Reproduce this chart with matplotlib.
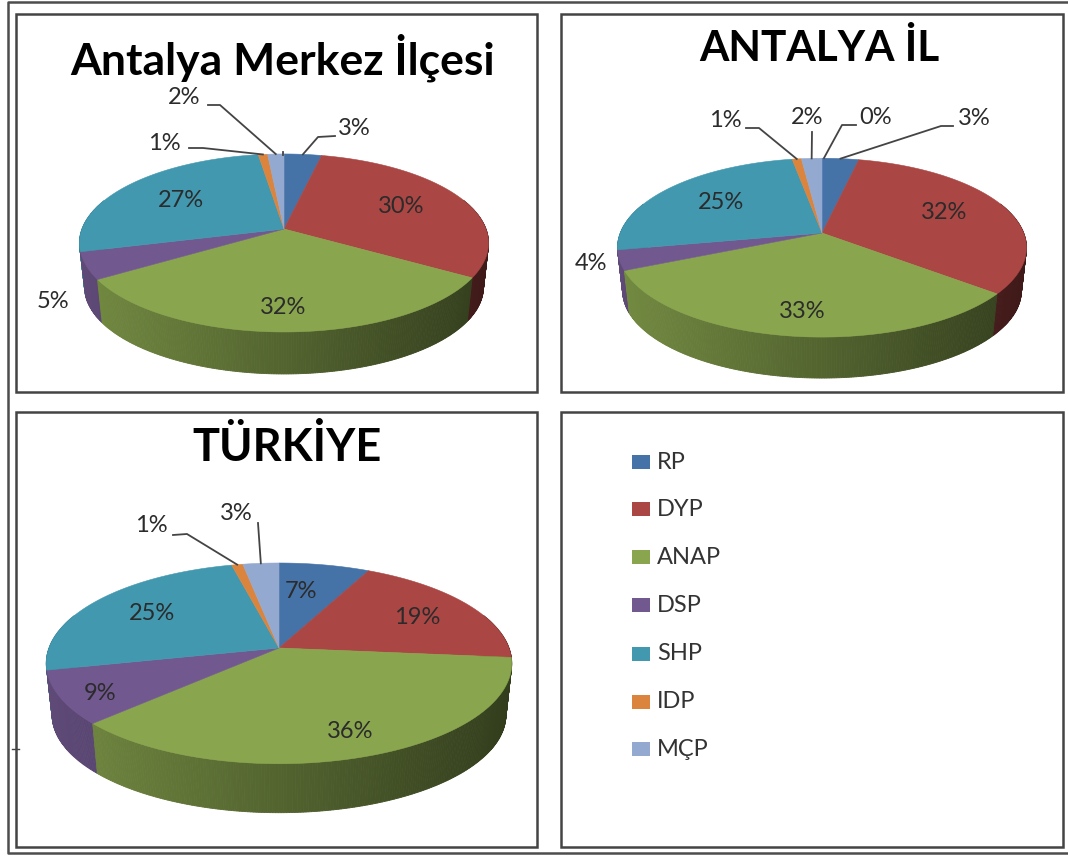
import numpy as np
import matplotlib
matplotlib.use("Agg")
import matplotlib.pyplot as plt
from matplotlib.patches import Rectangle

plt.rcParams["font.family"] = ["Lato", "DejaVu Sans"]

# ============================
# 1. DATA
# ============================

parties = ["RP", "DYP", "ANAP", "DSP", "SHP", "IDP", "MÇP"]
colors = ["#4572A7", "#AA4643", "#89A54E", "#71588F", "#4198AF", "#DB843D", "#93A9CF"]

# estimated from the slice edges, they round to the printed labels
merkez_values = [3.45, 30.2, 32.4, 4.9, 26.7, 0.85, 1.5]
il_values = [3.4, 32.4, 32.6, 3.6, 25.25, 0.85, 1.9]
turkiye_values = [7.3, 19.2, 36.4, 8.6, 24.7, 0.9, 2.9]

titles = ["Antalya Merkez İlçesi", "ANTALYA İL", "TÜRKİYE"]

# ============================
# 2. LAYOUT (pixels)
# ============================

# cx, cy, Rx, Ry, k (perspective), depth
geom_merkez = (284, 229, 202, 86.8, 0.157, 42)
geom_il = (822, 233, 201.7, 87, 0.164, 41)
geom_turkiye = (279, 648, 230, 98, 0.153, 49)

# label centres, one per slice
labels_merkez = [(354, 128), (401, 206), (283, 307), (53, 302), (181, 200), (164, 143), (184, 97)]
labels_il = [(974, 118), (944, 212), (802, 311), (591, 263), (721, 202), (725, 120), (807, 117)]
labels_turkiye = [(301, 592), (417, 617), (350, 731), (100, 693), (152, 613), (151, 526), (236, 514)]

# leader lines: slice index -> elbow points
leaders_merkez = {0: [(335, 136), (318, 137)], 5: [(189, 148), (203, 148)], 6: [(208, 105), (220, 105)]}
leaders_il = {0: [(953, 126), (941, 126)], 5: [(746, 128), (759, 128)], 6: [(812, 132)]}
leaders_turkiye = {5: [(173, 535), (187, 534)], 6: [(258, 523)]}


def project(g, theta, down=0.0, scale=1.0):
    # clockwise from the top, simple perspective so the apex sits behind the ellipse centre
    cx, cy, rx, ry, k, depth = g
    u, v = np.sin(theta), np.cos(theta)
    w = 1 + k * v
    return cx + scale * rx * u / w, cy + down - scale * ry * v / w


def draw_pie(ax, g, values, label_pos, leaders, title, title_xy, title_size):
    edges = np.deg2rad(np.cumsum([0] + values) * 3.6)
    cx, cy, rx, ry, k, depth = g
    half = rx / np.sqrt(1 - k**2)
    drop = depth + 0.025 * ry / (1 - k)

    # side wall, back to front
    strips = []
    for i, val in enumerate(values):
        th = np.linspace(edges[i], edges[i + 1], max(int(val * 6), 2) + 1)
        for a, b in zip(th[:-1], th[1:]):
            if np.cos((a + b) / 2) < 0.35:
                strips.append((np.cos((a + b) / 2), a, b, i))
    strips.sort(key=lambda s: -s[0])
    for _, a, b, i in strips:
        xa, ya = project(g, a)
        xb, yb = project(g, b)
        xc, yc = project(g, b, drop, 0.975)
        xd, yd = project(g, a, drop, 0.975)
        t = np.clip(((xa + xb) / 2 - (cx - half)) / (2 * half), 0, 1)
        shade = 0.84 - 0.47 * t
        rgb = np.array(matplotlib.colors.to_rgb(colors[i])) * shade
        ax.fill([xa, xb, xc, xd], [ya, yb, yc, yd], color=rgb, lw=0.6, zorder=2)

    # top face
    for i, val in enumerate(values):
        th = np.linspace(edges[i], edges[i + 1], max(int(val * 4), 2) + 1)
        xs, ys = project(g, th)
        ax.fill(np.r_[cx, xs], np.r_[cy, ys], color=colors[i], lw=0.4, zorder=3)

    # labels
    for i, val in enumerate(values):
        ax.text(label_pos[i][0], label_pos[i][1], f"{int(val + 0.5)}%", ha="center", va="center",
                fontsize=17, color="#2b2b2b", zorder=6)

    for i, pts in leaders.items():
        mid = (edges[i] + edges[i + 1]) / 2
        ex, ey = project(g, mid)
        xs = [p[0] for p in pts] + [ex]
        ys = [p[1] for p in pts] + [ey]
        ax.plot(xs, ys, color="#444444", lw=1.3, zorder=5)

    ax.text(title_xy[0], title_xy[1], title, ha="center", va="center",
            fontsize=title_size, fontweight="bold", color="black", zorder=6)


# ============================
# 3. FIGURE
# ============================

fig = plt.figure(figsize=(10.68, 8.56), dpi=100)
ax = fig.add_axes([0, 0, 1, 1])
ax.set_xlim(0, 1068)
ax.set_ylim(856, 0)
ax.axis("off")

# outer frame (open on the right) and the four panels
ax.plot([1068, 7.5, 7.5, 1068], [2, 2, 853, 853], color="#4d4d4d", lw=1.8)
for x0, y0, x1, y1 in [(16, 13.5, 537, 392), (561, 13.5, 1062.7, 392), (16, 412, 537, 847), (561, 412, 1062.7, 847)]:
    ax.add_patch(Rectangle((x0, y0), x1 - x0, y1 - y0, fill=False, ec="#444444", lw=1.8))
ax.plot([12, 19], [749, 749], color="#444444", lw=1)

# 0% slice of the il chart, and the small stub on the merkez chart
ax.plot([856, 842, 824], [125, 125, 158], color="#444444", lw=1.3, zorder=5)
ax.text(876, 117, "0%", ha="center", va="center", fontsize=17, color="#2b2b2b", zorder=6)
ax.plot([283, 283], [152, 155], color="#444444", lw=1.3, zorder=5)

draw_pie(ax, geom_merkez, merkez_values, labels_merkez, leaders_merkez, titles[0], (283, 58), 32)
draw_pie(ax, geom_il, il_values, labels_il, leaders_il, titles[1], (819, 48), 30.5)
draw_pie(ax, geom_turkiye, turkiye_values, labels_turkiye, leaders_turkiye, titles[2], (287, 447), 32.5)

# legend panel
legend_y = [462, 509, 557, 605, 654, 702, 749]
for name, col, y in zip(parties, colors, legend_y):
    ax.add_patch(Rectangle((632, y - 7), 18, 14, fc=col, ec="none"))
    ax.text(657, y, name, ha="left", va="center", fontsize=17, color="#333333")

fig.savefig("out.png", dpi=100)
